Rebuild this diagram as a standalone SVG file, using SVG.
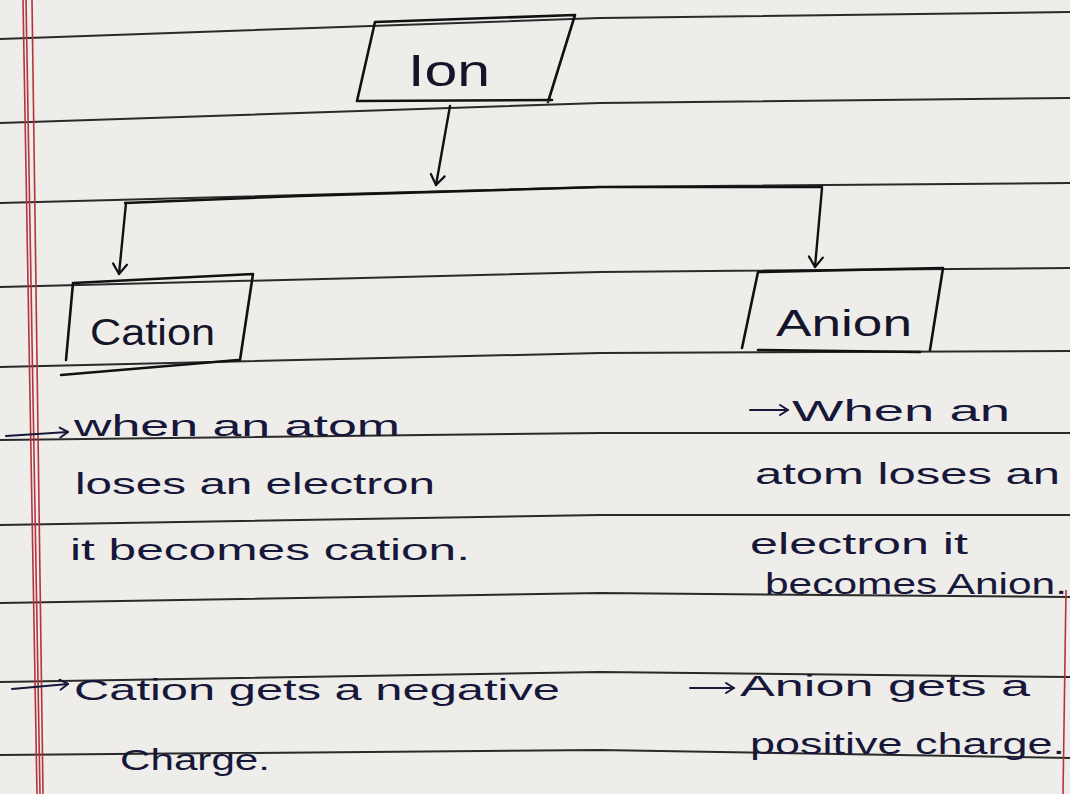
<svg xmlns="http://www.w3.org/2000/svg" width="1070" height="794" viewBox="0 0 1070 794">
<defs>
<marker id="v" viewBox="0 0 20 20" refX="18" refY="10" markerWidth="20" markerHeight="20" markerUnits="userSpaceOnUse" orient="auto">
<path d="M8,3 L18,10 L8,17" fill="none" stroke="#111" stroke-width="2.2" stroke-linecap="round" stroke-linejoin="round"/>
</marker>
<marker id="ink" viewBox="0 0 16 16" refX="14" refY="8" markerWidth="16" markerHeight="16" markerUnits="userSpaceOnUse" orient="auto">
<path d="M6,3 L14,8 L6,13" fill="none" stroke="#17173a" stroke-width="2" stroke-linecap="round" stroke-linejoin="round"/>
</marker>
<style>
.rule{fill:none;stroke:#2a2a2a;stroke-width:2}
.red{fill:none;stroke:#b5333f;stroke-width:1.6}
.box{fill:none;stroke:#111;stroke-width:2.6;stroke-linejoin:round;stroke-linecap:round}
.con{fill:none;stroke:#111;stroke-width:2.4;stroke-linecap:round}
.arr{fill:none;stroke:#17173a;stroke-width:2;stroke-linecap:round}
.lbl{font-family:"Liberation Sans",Arial,sans-serif;fill:#15152a;font-size:36px}
.txt{font-family:"Liberation Sans",Arial,sans-serif;fill:#17173a;font-size:29px}
</style>
</defs>
<rect width="1070" height="794" fill="#eeedea"/>
<g id="paper">
<path class="rule" d="M0,39 L600,18 L1070,12"/>
<path class="rule" d="M0,123 L600,103 L1070,98"/>
<path class="rule" d="M0,203 L600,187 L1070,183"/>
<path class="rule" d="M0,287 L600,272 L1070,268"/>
<path class="rule" d="M0,367 L600,353 L1070,351"/>
<path class="rule" d="M0,440 L600,433 L1070,433"/>
<path class="rule" d="M0,525 L600,515 L1070,515"/>
<path class="rule" d="M0,603 L600,593 L1070,597"/>
<path class="rule" d="M0,682 L600,672 L1070,677"/>
<path class="rule" d="M0,755 L600,750 L1070,758"/>
<path class="red" d="M23,0 L37,794"/>
<path class="red" d="M26,0 L40,794"/>
<path class="red" d="M32,0 L43,794"/>
<path class="red" d="M1066,590 L1063,794"/>
</g>
<g id="connectors">
<path class="con" d="M450,106 L436,185" marker-end="url(#v)"/>
<path class="con" d="M125,203 L300,196 L600,187 L822,187"/>
<path class="con" d="M126,203 L119,274" marker-end="url(#v)"/>
<path class="con" d="M822,188 L815,267" marker-end="url(#v)"/>
</g>
<g id="ion">
<path class="box" d="M375,22 L575,15 L548,102 M357,101 L552,100 M375,22 L357,101"/>
<text class="lbl" x="449" y="86" text-anchor="middle" textLength="82" lengthAdjust="spacingAndGlyphs" style="font-size:44px">Ion</text>
</g>
<g id="cation">
<path class="box" d="M73,283 L253,274 L240,360 M73,283 L66,360 M61,375 L238,360"/>
<text class="lbl" x="90" y="345" textLength="125" lengthAdjust="spacingAndGlyphs">Cation</text>
</g>
<g id="anion">
<path class="box" d="M758,272 L943,268 L930,350 M758,272 L742,348 M758,350 L920,352"/>
<text class="lbl" x="776" y="336" textLength="136" lengthAdjust="spacingAndGlyphs">Anion</text>
</g>
<g id="cation-notes">
<path class="arr" d="M6,436 L68,432" marker-end="url(#ink)"/>
<text class="txt" x="74" y="436" textLength="326" lengthAdjust="spacingAndGlyphs">when an atom</text>
<text class="txt" x="75" y="494" textLength="360" lengthAdjust="spacingAndGlyphs">loses an electron</text>
<text class="txt" x="70" y="560" textLength="400" lengthAdjust="spacingAndGlyphs">it becomes cation.</text>
<path class="arr" d="M12,689 L68,684" marker-end="url(#ink)"/>
<text class="txt" x="74" y="700" textLength="486" lengthAdjust="spacingAndGlyphs">Cation gets a negative</text>
<text class="txt" x="120" y="770" textLength="150" lengthAdjust="spacingAndGlyphs">Charge.</text>
</g>
<g id="anion-notes">
<path class="arr" d="M750,410 L788,410" marker-end="url(#ink)"/>
<text class="txt" x="792" y="421" textLength="218" lengthAdjust="spacingAndGlyphs">When an</text>
<text class="txt" x="755" y="484" textLength="305" lengthAdjust="spacingAndGlyphs">atom loses an</text>
<text class="txt" x="750" y="554" textLength="218" lengthAdjust="spacingAndGlyphs">electron it</text>
<text class="txt" x="765" y="594" textLength="302" lengthAdjust="spacingAndGlyphs">becomes Anion.</text>
<path class="arr" d="M690,688 L734,688" marker-end="url(#ink)"/>
<text class="txt" x="740" y="696" textLength="290" lengthAdjust="spacingAndGlyphs">Anion gets a</text>
<text class="txt" x="750" y="754" textLength="315" lengthAdjust="spacingAndGlyphs">positive charge.</text>
</g>
</svg>
